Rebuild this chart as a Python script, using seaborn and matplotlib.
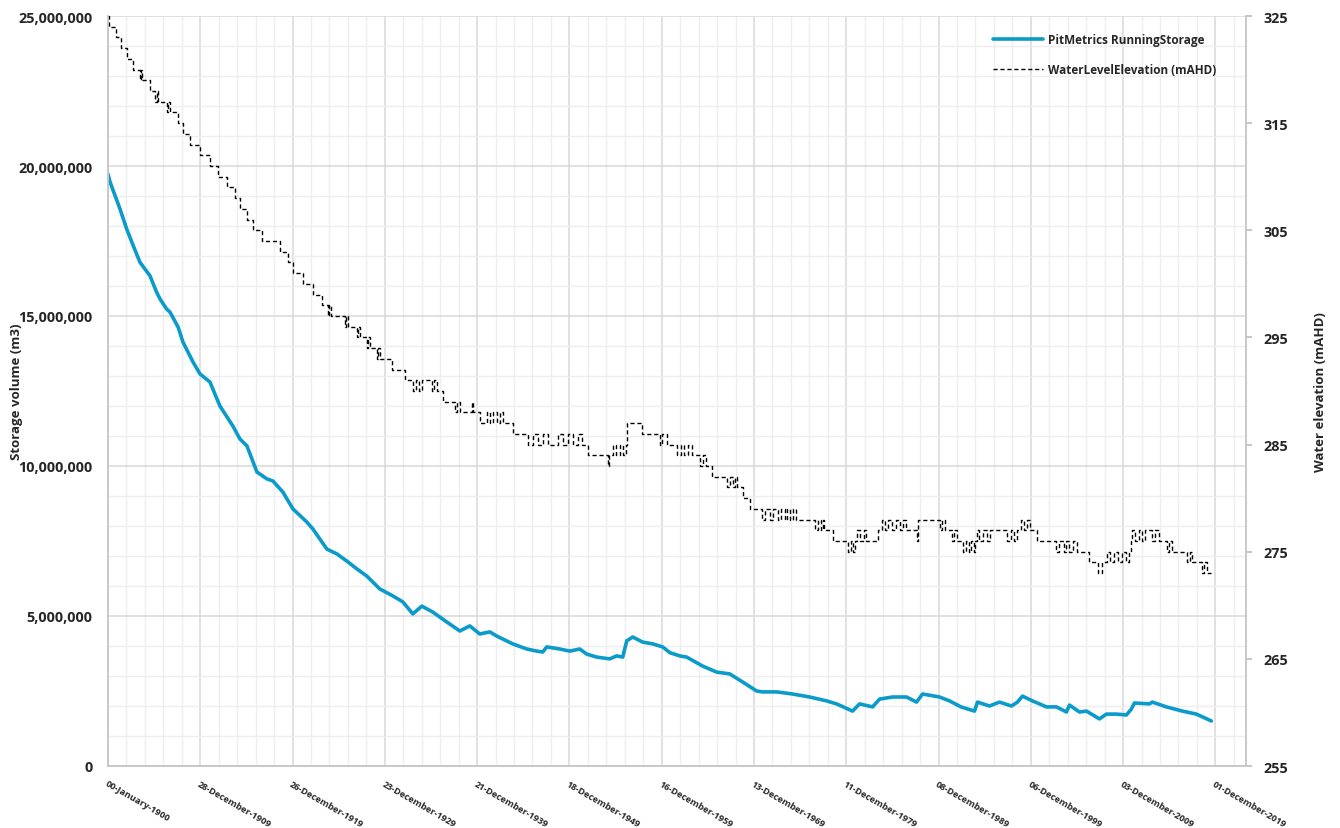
import numpy as np
import pandas as pd
import matplotlib
matplotlib.use("Agg")
import matplotlib.pyplot as plt
from matplotlib.ticker import MultipleLocator, FixedLocator, FuncFormatter
import seaborn as sns

# ---------------- data ----------------
# x values are Excel-style day serials (0 = "00-January-1900")
storage_days = [0, 79, 474, 739, 1000, 1265, 1660, 1925, 2056, 2320, 2451, 2779, 2965,
                3360, 3637, 4032, 4427, 4941, 5218, 5495, 5890, 6285, 6523, 6918, 7313,
                7867, 8104, 8657, 9052, 9448, 9843, 10238, 10752, 11266, 11662, 12057,
                12413, 12847, 13401, 13915, 14310, 14705, 15101, 15377, 16010, 16563,
                16959, 17196, 17354, 17868, 18263, 18659, 18935, 19331, 19845, 20121,
                20359, 20517, 20754, 21149, 21545, 21940, 22217, 22612, 22889, 23521,
                24075, 24589, 25102, 25656, 25893, 26447, 27079, 27751, 28423, 28818,
                29451, 29727, 30241, 30518, 31032, 31585, 31981, 32218, 32890, 33285,
                33740, 34273, 34392, 34866, 35261, 35736, 35973, 36171, 36566, 37119,
                37515, 37910, 38029, 38424, 38701, 39215, 39491, 39887, 40282, 40480,
                40598, 41191, 41310, 41863, 42496, 43049, 43642]
storage_m3 = [19730000, 19470000, 18570000, 17900000, 17340000, 16790000, 16340000,
              15790000, 15570000, 15230000, 15130000, 14620000, 14130000, 13470000,
              13070000, 12800000, 12000000, 11330000, 10900000, 10670000, 9800000,
              9570000, 9500000, 9130000, 8570000, 8130000, 7900000, 7230000, 7070000,
              6830000, 6570000, 6330000, 5900000, 5670000, 5470000, 5070000, 5330000,
              5130000, 4800000, 4500000, 4670000, 4400000, 4470000, 4330000, 4070000,
              3900000, 3830000, 3800000, 3970000, 3900000, 3830000, 3900000, 3730000,
              3630000, 3570000, 3670000, 3630000, 4170000, 4300000, 4130000, 4070000,
              3970000, 3780000, 3670000, 3630000, 3330000, 3130000, 3070000, 2800000,
              2500000, 2470000, 2470000, 2400000, 2300000, 2170000, 2070000, 1830000,
              2070000, 1970000, 2230000, 2300000, 2300000, 2130000, 2400000, 2300000,
              2170000, 1970000, 1830000, 2130000, 2000000, 2130000, 2000000, 2130000,
              2330000, 2170000, 1970000, 1970000, 1800000, 2030000, 1800000, 1830000,
              1570000, 1730000, 1730000, 1700000, 1900000, 2100000, 2070000, 2130000,
              1970000, 1830000, 1730000, 1500000]

elev_days = [0, 20, 300, 500, 740, 1000, 1265, 1300, 1340, 1660, 1860, 1920, 1990,
             2330, 2390, 2450, 2780, 2980, 3240, 3640, 4030, 4360, 4690, 5020, 5220,
             5480, 5740, 6080, 6800, 7130, 7330, 7720, 8120, 8450, 8700, 8760, 8820,
             9370, 9430, 9490, 9840, 9900, 9960, 10240, 10300, 10360, 10630, 10690,
             10750, 11230, 11740, 12060, 12180, 12300, 12410, 12800, 12900, 13000,
             13240, 13720, 13800, 13910, 14380, 14430, 14700, 14980, 15100, 15220,
             15380, 15500, 15610, 16010, 16600, 16800, 17000, 17200, 17400, 17800,
             18000, 18200, 18400, 18600, 18750, 18980, 19760, 19800, 19960, 20080,
             20240, 20360, 20480, 20520, 21110, 21820, 21900, 22100, 22490, 22650,
             22800, 22950, 23080, 23400, 23520, 23640, 23880, 24470, 24590, 24710,
             24790, 24860, 25100, 25380, 25850, 25970, 26170, 26290, 26490, 26610,
             26770, 26850, 26970, 27090, 27230, 27950, 28070, 28190, 28270, 28340,
             28660, 29250, 29370, 29450, 29530, 29610, 29730, 29890, 30000, 30440,
             30600, 30720, 30840, 31000, 31160, 31310, 31430, 31550, 31700, 31990,
             32020, 32890, 33000, 33100, 33400, 33480, 33580, 33800, 33920, 34040,
             34150, 34270, 34300, 34390, 34470, 34600, 34750, 34870, 34980, 35570,
             35700, 35850, 35970, 36130, 36250, 36350, 36450, 36760, 37510, 37630,
             37800, 37910, 38000, 38150, 38340, 38820, 39140, 39300, 39530, 39650,
             39800, 39950, 40100, 40250, 40380, 40480, 40520, 40640, 40760, 40880,
             41000, 41310, 41400, 41590, 41900, 41980, 42100, 42690, 42780, 42890,
             43290, 43360, 43480, 43640]
elev_mahd = [325, 324, 323, 322, 321, 320, 319, 320, 319, 318, 317, 318, 317,
             316, 317, 316, 315, 314, 313, 312, 311, 310, 309, 308, 307,
             306, 305, 304, 303, 302, 301, 300, 299, 298, 297, 298, 297,
             296, 297, 296, 295, 296, 295, 294, 295, 294, 293, 294,
             293, 292, 291, 290, 291, 290, 291, 290, 291, 290,
             289, 288, 289, 288, 289, 288, 287, 288, 287, 288,
             287, 288, 287, 286, 285, 286, 285, 286, 285, 286,
             285, 286, 285, 286, 285, 284, 283, 284, 285, 284,
             285, 284, 285, 287, 286, 285, 286, 285, 284, 285,
             284, 285, 284, 283, 284, 283, 282, 281, 282, 281,
             282, 281, 280, 279, 278, 279, 278, 279, 278, 279,
             278, 279, 278, 279, 278, 277, 278, 277, 278, 277,
             276, 275, 276, 275, 276, 277, 276, 277, 276, 277,
             278, 277, 278, 277, 278, 277, 278, 277, 277, 276,
             278, 277, 278, 277, 276, 277, 276, 275, 276, 275,
             276, 275, 276, 277, 276, 277, 276, 277, 277, 276,
             277, 276, 277, 278, 277, 278, 277, 276, 275, 276,
             275, 276, 275, 276, 275, 274, 273, 274, 275, 274,
             275, 274, 275, 274, 275, 276, 277, 276, 277, 276,
             277, 276, 277, 276, 275, 276, 275, 274, 275, 274,
             273, 274, 273, 273]

tick_days = [0, 3650, 7300, 10950, 14600, 18250, 21900, 25550, 29200, 32850, 36500,
             40150, 43800]
tick_labels = ["00-January-1900", "28-December-1909", "26-December-1919",
               "23-December-1929", "21-December-1939", "18-December-1949",
               "16-December-1959", "13-December-1969", "11-December-1979",
               "08-December-1989", "06-December-1999", "03-December-2009",
               "01-December-2019"]
elev_ticks = [255, 265, 275, 285, 295, 305, 315, 325]

series_names = ["PitMetrics RunningStorage", "WaterLevelElevation (mAHD)"]
axis_titles = ["Storage volume (m3)", "Water elevation (mAHD)"]

df_storage = pd.DataFrame({"day": storage_days, "storage": storage_m3})
df_elev = pd.DataFrame({"day": elev_days, "elev": elev_mahd})

# ---------------- style ----------------
sns.set_theme(style="white")
plt.rcParams["font.family"] = ["Open Sans", "DejaVu Sans"]
plt.rcParams["font.weight"] = "bold"

W, H = 1340, 829
fig = plt.figure(figsize=(W / 100, H / 100), dpi=100)
ax = fig.add_axes([108 / W, 62 / H, (1245.7 - 108) / W, (767 - 17) / H])
ax2 = ax.twinx()

blue = "#0A9BCB"
sns.lineplot(data=df_storage, x="day", y="storage", ax=ax, color=blue, linewidth=2.6,
             estimator=None, label=series_names[0], legend=False)
sns.lineplot(data=df_elev, x="day", y="elev", ax=ax2, color="black", linewidth=1.0,
             estimator=None, drawstyle="steps-post", label=series_names[1], legend=False)
for ln in ax2.lines:
    ln.set_dashes((3, 2))

# axes limits / ticks
ax.set_xlim(0, 45000)
ax.set_ylim(0, 25_000_000)
ax2.set_ylim(255, 325)

ax.xaxis.set_major_locator(FixedLocator(tick_days))
ax.xaxis.set_minor_locator(MultipleLocator(730))
ax.set_xticklabels(tick_labels, rotation=-30, ha="left", va="top",
                   rotation_mode="anchor", fontsize=6.6, fontweight="bold")
ax.yaxis.set_major_locator(MultipleLocator(5_000_000))
ax.yaxis.set_minor_locator(MultipleLocator(1_000_000))
ax.yaxis.set_major_formatter(FuncFormatter(lambda v, p: f"{int(v):,}"))
ax2.yaxis.set_major_locator(FixedLocator(elev_ticks))
ax2.yaxis.set_minor_locator(FixedLocator([]))

ax.grid(which="major", color="#d9d9d9", linewidth=1.1)
ax.grid(which="minor", color="#eeeeee", linewidth=1.0)
ax.set_axisbelow(True)
ax2.grid(False)

ax.tick_params(axis="x", which="both", length=0, pad=9)
ax.tick_params(axis="y", which="both", length=0, pad=11, labelsize=10.4)
ax2.tick_params(axis="y", which="major", length=4, color="#bfbfbf", pad=9,
                labelsize=10.4)
for lbl in ax.get_yticklabels() + ax2.get_yticklabels():
    lbl.set_fontweight("bold")

for a in (ax, ax2):
    for side in ("left", "bottom", "right"):
        a.spines[side].set_color("#c8c8c8")
        a.spines[side].set_linewidth(1.2)
    a.spines["top"].set_visible(False)

ax.set_xlabel("")
ax.set_ylabel("")
ax2.set_ylabel("")
yc = 1 - 392 / H
fig.text(17 / W, yc, axis_titles[0], rotation=90, ha="center", va="center",
         fontsize=9.5, fontweight="bold")
fig.text(1320 / W, yc, axis_titles[1], rotation=90, ha="center", va="center",
         fontsize=9.5, fontweight="bold")

h1, l1 = ax.get_legend_handles_labels()
h2, l2 = ax2.get_legend_handles_labels()
leg = ax2.legend(h1 + h2, l1 + l2, loc="upper left",
                 bbox_to_anchor=(993 / W, 1 - 34 / H), bbox_transform=fig.transFigure,
                 frameon=False, fontsize=8.5, handlelength=4.2, handletextpad=0.5,
                 labelspacing=1.45, borderpad=0, borderaxespad=0)
for t in leg.get_texts():
    t.set_fontweight("bold")

fig.savefig("out.png", dpi=100)
